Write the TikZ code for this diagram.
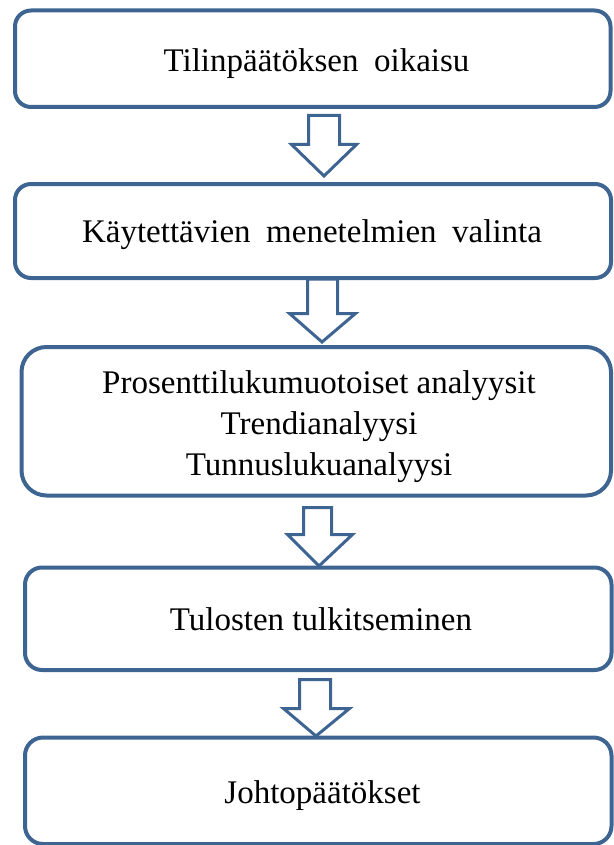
\documentclass[tikz,border=0pt]{standalone}
\usepackage{fontspec}
\setmainfont{Liberation Serif}
\definecolor{boxblue}{RGB}{62,100,146}
\begin{document}
\begin{tikzpicture}[x=1pt,y=-1pt,
  stepbox/.style={draw=boxblue, line width=4pt, fill=white, inner sep=0pt, outer sep=0pt},
  label/.style={anchor=base, inner sep=0pt, font=\fontsize{33}{41}\selectfont, text=black},
  blockarrow/.style={draw=boxblue, line width=3pt, fill=white, line join=miter}]
\useasboundingbox (0,0) rectangle (613,845);
\node[stepbox, rounded corners=16pt, minimum width=595.5pt, minimum height=96.5pt] (b1) at (312.75,58.75) {};
\node[stepbox, rounded corners=16pt, minimum width=596pt, minimum height=94pt] (b2) at (313,231) {};
\node[stepbox, rounded corners=25pt, minimum width=589.5pt, minimum height=148.5pt] (b3) at (316.25,421.25) {};
\node[stepbox, rounded corners=17pt, minimum width=586.5pt, minimum height=102.5pt] (b4) at (318.25,618.75) {};
\node[stepbox, rounded corners=18pt, minimum width=586.5pt, minimum height=106.5pt] (b5) at (318.25,790.75) {};
\node[label] (t1) at (316.5,72) {Tilinpäätöksen\hspace{0.47em}oikaisu};
\node[label] (t2) at (312,242.7) {Käytettävien\hspace{0.47em}menetelmien\hspace{0.47em}valinta};
\node[label, align=center] (t3) at (319,475) {Prosenttilukumuotoiset analyysit\\Trendianalyysi\\Tunnuslukuanalyysi};
\node[label] (t4) at (321,630) {Tulosten tulkitseminen};
\node[label] (t5) at (322.5,803) {Johtopäätökset};
\draw[blockarrow] (308.5,115.5) -- (339.5,115.5) -- (339.5,144.5) -- (356.5,144.5) -- (324,176) -- (291.5,144.5) -- (308.5,144.5) -- cycle;
\draw[blockarrow] (307.5,279) -- (337.5,279) -- (337.5,313.5) -- (355.5,313.5) -- (322,342) -- (289.5,313.5) -- (307.5,313.5) -- cycle;
\draw[blockarrow] (303.5,507.5) -- (331.5,507.5) -- (331.5,534.5) -- (352.5,534.5) -- (319,566) -- (287.5,534.5) -- (303.5,534.5) -- cycle;
\draw[blockarrow] (299.5,679.5) -- (330.5,679.5) -- (330.5,708.5) -- (349.5,708.5) -- (316,736) -- (283.5,708.5) -- (299.5,708.5) -- cycle;
\end{tikzpicture}
\end{document}
